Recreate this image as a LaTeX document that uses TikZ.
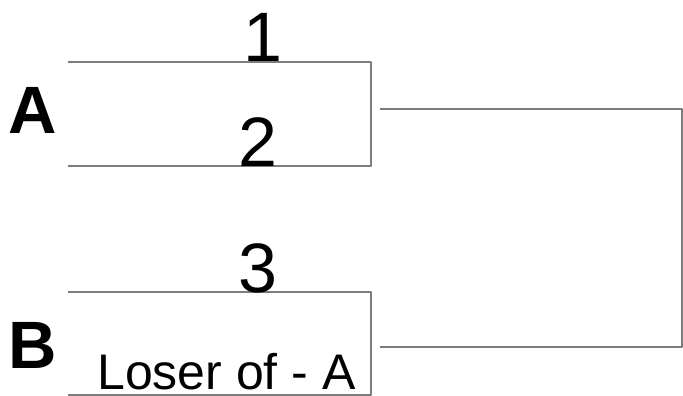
\documentclass[tikz,border=0pt]{standalone}
\usepackage{fontspec}
\setmainfont{Liberation Sans}
\usetikzlibrary{calc,positioning}
\definecolor{LineGray}{RGB}{125,125,125}

\begin{document}
\begin{tikzpicture}[x=1pt,y=-1pt,
  bline/.style={LineGray,line width=1.8pt,line join=round},
  seed/.style={inner sep=0pt,anchor=base,font=\fontsize{70}{70}\selectfont},
  group/.style={inner sep=0pt,anchor=base west,font=\fontsize{67}{67}\selectfont\bfseries}]
\useasboundingbox (0,0) rectangle (683,396);
% bracket A
\coordinate (a1) at (68,62);
\coordinate (a2) at (68,166);
\coordinate (ar) at (371,62);
\draw[bline] (a1) -- (ar) |- (a2);
\node[seed] (s1) at (263,62) {1};
\node[seed] (s2) at (258,166) {2};
\node[group] (ga) at (8,133) {A};
% bracket B
\coordinate (b1) at (68,292);
\coordinate (b2) at (68,395);
\coordinate (br) at (371,292);
\draw[bline] (b1) -- (br) |- (b2);
\node[seed] (s3) at (258,292) {3};
\node[group] (gb) at (8,368) {B};
\node[inner sep=0pt,anchor=base west,font=\fontsize{50}{50}\selectfont] (la) at (97,389) {Loser of - A};
% final
\coordinate (fa) at (380,109);
\coordinate (fb) at (380,347);
\draw[bline] (fa) -- (682,109) |- (fb);
\end{tikzpicture}
\end{document}
